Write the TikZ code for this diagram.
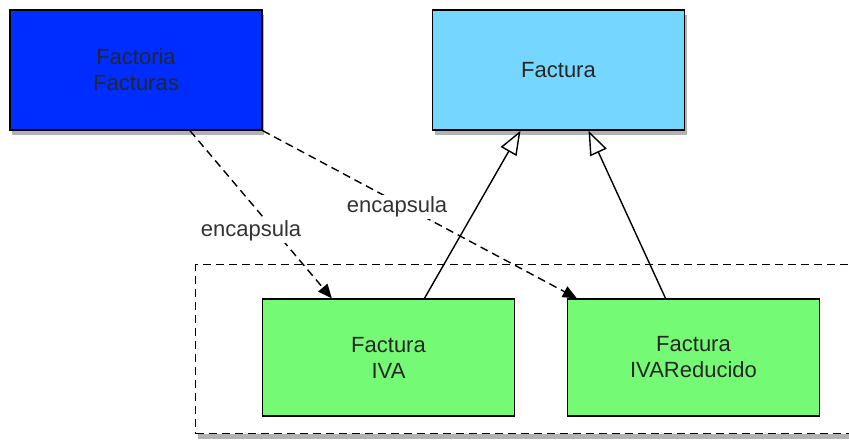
\documentclass[tikz,border=0pt]{standalone}
\usepackage{fontspec}
\setmainfont{Liberation Sans}
\usepackage{tikz}
\usetikzlibrary{
    arrows.meta,
    shadows,
    positioning
}
\definecolor{fdark}{RGB}{0,45,255}
\definecolor{flight}{RGB}{117,214,255}
\definecolor{fgreen}{RGB}{117,250,117}
\tikzset{clsb/.style={inner sep=2pt, rectangle, draw=black, line width=0.7pt, minimum width=126pt, minimum height=60pt, align=center, text=black!85, font=\fontsize{11}{13}\selectfont}}
\tikzset{shdw/.style={drop shadow={shadow xshift=1pt, shadow yshift=-2.5pt, opacity=0.3, fill=black}}}
\tikzset{lbl/.style={inner sep=1pt, fill=white, text=black!80, font=\fontsize{11}{13}\selectfont}}
\tikzset{dsh/.style={dash pattern=on 4pt off 2.5pt}}

\begin{document}
\begin{tikzpicture}[x=0.5pt, y=-0.5pt]
                                            \useasboundingbox (0,0) rectangle (849,439);
                                            \node[draw=black, dsh, line width=0.7pt, fill=white, shdw, minimum width=345pt, minimum height=84.5pt, inner sep=0pt, anchor=north west] (pkg) at (195,264) {};
                                            \node[clsb, fill=fdark, shdw] (ff) at (136,70) {Factoria\\Facturas};
                                            \node[clsb, fill=flight, shdw] (f) at (558.5,70) {Factura};
                                            \node[clsb, fill=fgreen, minimum height=58.5pt] (iva) at (388.5,357.5) {Factura\\IVA};
                                            \node[clsb, fill=fgreen, minimum height=58.5pt] (ivar) at (693.5,357.5) {Factura\\IVAReducido};
                                            \draw[line width=0.7pt]
                                            ([xshift=18pt]iva.north) edge[-{Triangle[open, length=12pt, width=9pt]}] ([xshift=-19pt]f.south)
                                            ([xshift=-14pt]ivar.north) edge[-{Triangle[open, length=12pt, width=9pt]}] ([xshift=15pt]f.south);
                                            \draw[line width=0.7pt, dsh]
                                            ([xshift=27pt]ff.south) edge[-{Triangle[length=7pt, width=6pt]}] ([xshift=35pt]iva.north west)
                                            (ff.south east) edge[-{Triangle[length=7pt, width=6pt]}] ([xshift=5pt]ivar.north west);
                                            \node[lbl] (l1) at (251,231) {encapsula};
                                            \node[lbl] (l2) at (397,207) {encapsula};
                                        \end{tikzpicture}
\end{document}
